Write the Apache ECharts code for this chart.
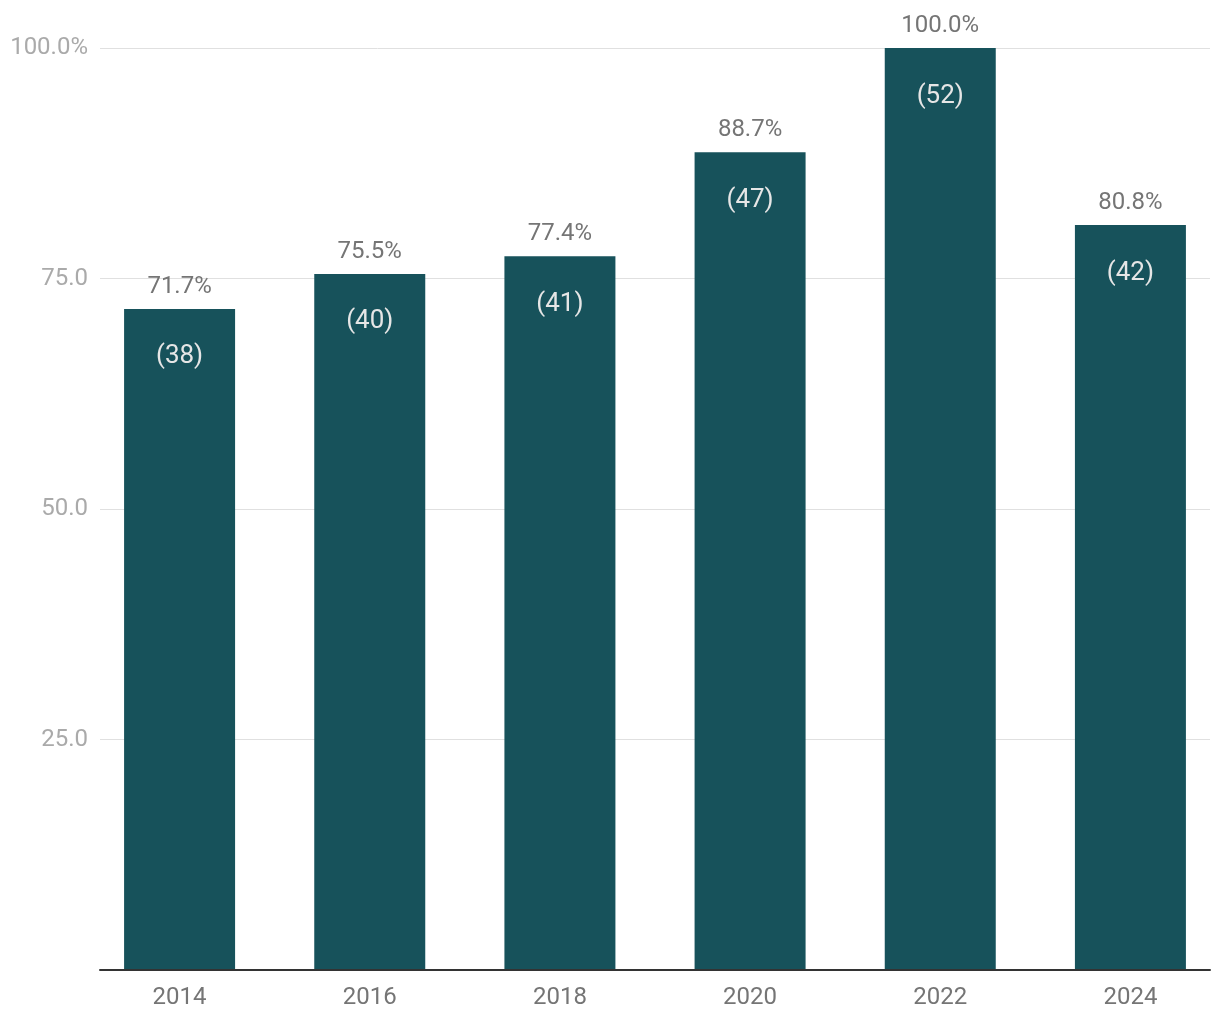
<!DOCTYPE html>
<html><head><meta charset="utf-8">
<script src="https://cdn.jsdelivr.net/npm/echarts@6/dist/echarts.min.js"></script>
<style>html,body{margin:0;padding:0;background:#fff}#c{width:1220px;height:1020px}</style>
</head><body><div id="c"></div>
<script>
const categories = ['2014','2016','2018','2020','2022','2024'];
const percentValues = [71.7, 75.5, 77.4, 88.7, 100.0, 80.8];
const counts = [38, 40, 41, 47, 52, 42];
const yTicks = [0, 25, 50, 75, 100];

const chart = echarts.init(document.getElementById('c'));
const font = 'Roboto';
chart.setOption({
  animation: false,
  textStyle: {fontFamily: font},
  grid: [
    {left: 100, right: 10, top: 48, bottom: 50, outerBoundsMode: 'none', containLabel: false},
    {left: 84.5, width: 1141, top: 48, bottom: 50, outerBoundsMode: 'none', containLabel: false}
  ],
  xAxis: [
    {gridIndex: 0, type: 'category', data: categories, axisLabel: {show: false}, axisTick: {show: false},
     axisLine: {show: true, lineStyle: {color: '#333', width: 2}}, z: 10},
    {gridIndex: 1, type: 'category', data: categories, axisTick: {show: false}, axisLine: {show: false},
     axisLabel: {color: '#757575', fontSize: 24, fontFamily: font, margin: 16}}
  ],
  yAxis: [
    {gridIndex: 0, type: 'value', min: 0, max: 100, interval: 25,
     axisLine: {show: false}, axisTick: {show: false},
     splitLine: {lineStyle: {color: '#e0e0e0', width: 1}},
     axisLabel: {color: '#aaaaaa', fontSize: 24, fontFamily: font, margin: 12, padding: [2, 0, 0, 0],
       formatter: v => v === 0 ? '' : (v === 100 ? v.toFixed(1) + '%' : v.toFixed(1))}},
    {gridIndex: 1, type: 'value', min: 0, max: 100, show: false, splitLine: {show: false}}
  ],
  series: [
    {type: 'bar', xAxisIndex: 1, yAxisIndex: 1, data: percentValues, barWidth: 111,
     itemStyle: {color: '#17525B'},
     label: {show: true, position: 'top', distance: 10, color: '#757575', fontSize: 24, fontFamily: font,
       formatter: p => p.value.toFixed(1) + '%'}},
    {type: 'bar', xAxisIndex: 1, yAxisIndex: 1, data: percentValues, barWidth: 111, barGap: '-100%',
     itemStyle: {color: 'transparent'},
     label: {show: true, position: 'insideTop', distance: 35, color: '#e6e6e6', fontSize: 26, fontFamily: font,
       formatter: p => '(' + counts[p.dataIndex] + ')'}}
  ]
});
</script></body></html>
